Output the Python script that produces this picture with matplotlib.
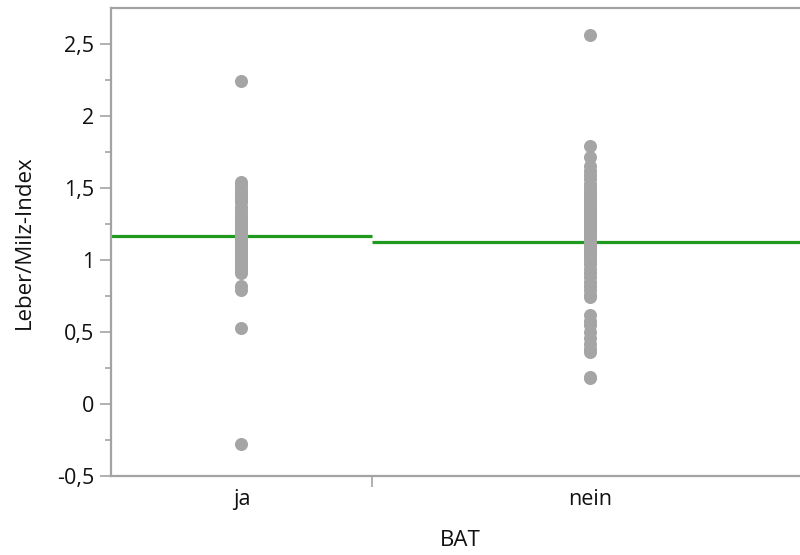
import numpy as np
import matplotlib.pyplot as plt

# Leber/Milz-Index nach BAT-Gruppe
groups = ["ja", "nein"]

ja_values = [2.24, 1.54, 1.52, 1.49, 1.48, 1.46, 1.44, 1.42, 1.40, 1.37, 1.36,
             1.34, 1.31, 1.29, 1.27, 1.25, 1.23, 1.21, 1.19, 1.17, 1.15, 1.13,
             1.11, 1.09, 1.07, 1.05, 1.03, 1.01, 0.99, 0.97, 0.95, 0.93, 0.91,
             0.82, 0.79, 0.53, -0.28]

nein_values = [2.56, 1.79, 1.715,
               1.65, 1.62, 1.59, 1.56, 1.53, 1.50, 1.48, 1.46, 1.44, 1.42,
               1.40, 1.38, 1.36, 1.34, 1.32, 1.30, 1.28, 1.26, 1.24, 1.22,
               1.20, 1.18, 1.16, 1.14, 1.12, 1.10, 1.08, 1.06, 1.04, 1.02,
               1.35, 1.31, 1.29, 1.27, 1.25, 1.23, 1.19, 1.15, 1.11,
               1.00, 0.97, 0.94, 0.91, 0.88, 0.85, 0.82, 0.79, 0.76, 0.74,
               0.62, 0.58, 0.55, 0.50, 0.46, 0.42, 0.38, 0.36, 0.19, 0.18]

y_ticks = [-0.5, 0, 0.5, 1, 1.5, 2, 2.5]
y_ticklabels = ["-0,5", "0", "0,5", "1", "1,5", "2", "2,5"]

plt.rcParams['font.family'] = ['Open Sans', 'DejaVu Sans']

point_color = "#a5a5a5"
mean_color = "#1f9a1f"
axis_color = "#a3a3a3"
text_color = "#111111"

fig = plt.figure(figsize=(8, 5.55), dpi=100)
# right edge of the frame runs slightly past the figure
ax = fig.add_axes([0.13875, 0.1423, 0.8725, 0.8424])

# group widths proportional to group size (JMP style)
data = [ja_values, nein_values]
sizes = np.array([len(v) for v in data], dtype=float)
edges = np.concatenate([[0], np.cumsum(sizes) / sizes.sum()])
centers = (edges[:-1] + edges[1:]) / 2

for i, vals in enumerate(data):
    ax.plot([edges[i], edges[i + 1]], [np.mean(vals)] * 2, color=mean_color,
            lw=2.3, solid_capstyle='butt', zorder=2)
    ax.plot([centers[i]] * len(vals), vals, 'o', ms=9.4, color=point_color,
            mec='none', zorder=3)

ax.set_xlim(0, 1)
ax.set_ylim(-0.5, 2.747)

ax.set_yticks(y_ticks)
ax.set_yticklabels(y_ticklabels)
ax.set_yticks(np.arange(-0.25, 2.75, 0.5), minor=True)
ax.set_xticks(centers)
ax.set_xticklabels(groups)
ax.set_xticks(edges[1:-1], minor=True)

ax.tick_params(axis='both', which='major', labelsize=15.5, color=axis_color,
               labelcolor=text_color)
ax.tick_params(axis='y', which='major', length=8, width=1.2, pad=4)
ax.tick_params(axis='y', which='minor', length=4, width=1.2, color=axis_color)
ax.tick_params(axis='x', which='major', length=0, pad=9)
ax.tick_params(axis='x', which='minor', length=8, width=1.2, color=axis_color)

for side in ['left', 'bottom', 'top', 'right']:
    ax.spines[side].set_color(axis_color)
    ax.spines[side].set_linewidth(1.6)

ax.set_ylabel("Leber/Milz-Index", fontsize=16, color=text_color, labelpad=16)
ax.set_xlabel("BAT", fontsize=16, color=text_color, labelpad=15)

fig.savefig("out.png", dpi=100)
